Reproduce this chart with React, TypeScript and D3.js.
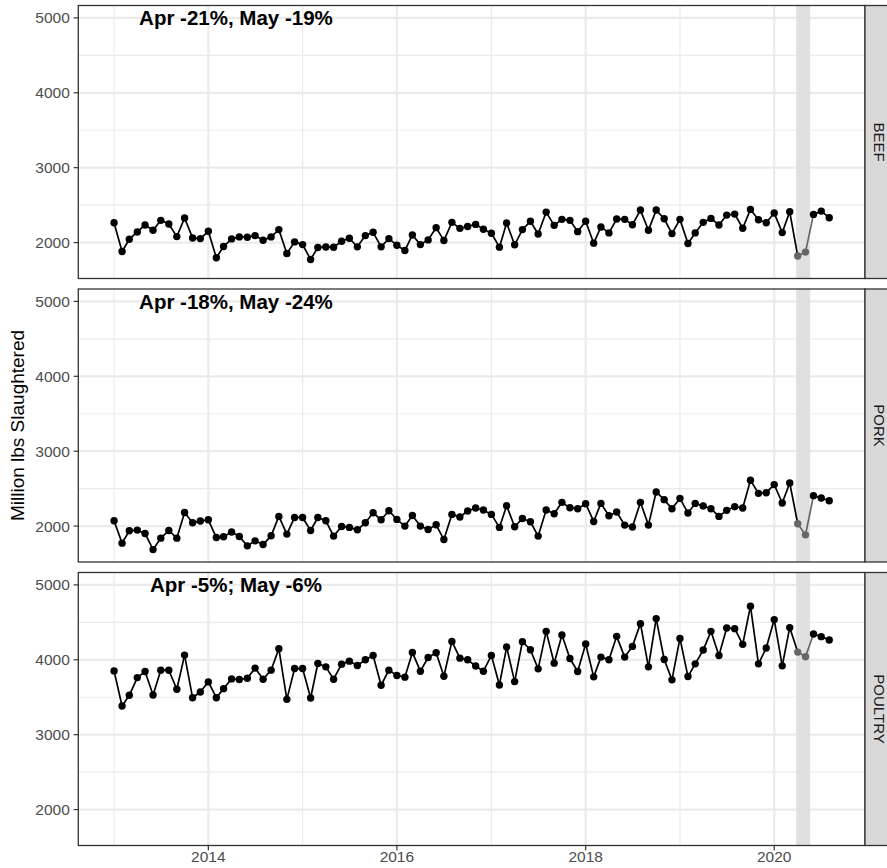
import React from 'react';
import * as d3 from 'd3';

// monthly slaughter, million lbs, Jan 2013 .. Aug 2020
const facets = ['BEEF', 'PORK', 'POULTRY'];

const beef = [
  2265, 1881, 2045, 2142, 2235, 2164, 2297, 2248, 2080, 2328, 2062, 2053,
  2151, 1797, 1947, 2049, 2076, 2071, 2093, 2032, 2076, 2173, 1854, 2009,
  1973, 1775, 1935, 1940, 1938, 2018, 2058, 1943, 2093, 2137, 1943, 2053,
  1965, 1894, 2102, 1973, 2036, 2199, 2027, 2270, 2190, 2215, 2243, 2178,
  2125, 1939, 2261, 1970, 2173, 2284, 2115, 2407, 2230, 2310, 2297, 2146,
  2284, 1992, 2208, 2129, 2314, 2310, 2239, 2434, 2164, 2434, 2318, 2120,
  2310, 1987, 2129, 2270, 2323, 2235, 2367, 2380, 2191, 2443, 2305, 2265,
  2394, 2133, 2411, 1820, 1873, 2376, 2420, 2332,
];

const pork = [
  2071, 1772, 1937, 1946, 1901, 1686, 1839, 1941, 1839, 2182, 2044, 2067,
  2084, 1847, 1857, 1920, 1861, 1736, 1803, 1753, 1870, 2129, 1893, 2115,
  2115, 1941, 2115, 2071, 1866, 1995, 1982, 1950, 2044, 2178, 2084, 2205,
  2089, 2000, 2142, 2000, 1955, 2017, 1820, 2156, 2122, 2201, 2241, 2214,
  2156, 1982, 2272, 1991, 2102, 2058, 1866, 2214, 2165, 2317, 2245, 2232,
  2299, 2062, 2303, 2138, 2188, 2013, 1987, 2317, 2013, 2456, 2353, 2232,
  2370, 2174, 2303, 2268, 2232, 2129, 2210, 2259, 2241, 2611, 2437, 2446,
  2554, 2308, 2576, 2031, 1883, 2406, 2375, 2339,
];

const poultry = [
  3852, 3383, 3526, 3762, 3843, 3530, 3862, 3860, 3607, 4063, 3494, 3570,
  3705, 3494, 3615, 3745, 3736, 3754, 3889, 3741, 3862, 4148, 3472, 3883,
  3883, 3490, 3951, 3906, 3741, 3942, 3982, 3924, 4000, 4058, 3660, 3862,
  3790, 3768, 4098, 3848, 4031, 4094, 3781, 4246, 4022, 4000, 3917, 3848,
  4058, 3664, 4170, 3709, 4242, 4134, 3879, 4380, 3955, 4331, 4018, 3843,
  4210, 3772, 4036, 4000, 4313, 4036, 4179, 4483, 3906, 4550, 4004, 3732,
  4286, 3776, 3946, 4130, 4380, 4058, 4425, 4416, 4206, 4716, 3946, 4157,
  4537, 3919, 4430, 4103, 4040, 4345, 4309, 4264,
];

const seriesList = [beef, pork, poultry];
const notes = ['Apr -21%, May -19%', 'Apr -18%, May -24%', 'Apr -5%; May -6%'];
const noteY = 5000;
const noteDate = new Date(2014, 3, 18);

const yMajor = [2000, 3000, 4000, 5000];
const yMinor = [2500, 3500, 4500];
const xMajorYears = [2014, 2016, 2018, 2020];
const xMinorYears = [2013, 2015, 2017, 2019];

const covidStart = new Date(2020, 2, 26);
const covidEnd = new Date(2020, 4, 19);
const covidMonths = ['2020-04', '2020-05'];

const months = d3.timeMonth.range(new Date(2013, 0, 1), new Date(2020, 8, 1));
const fmtMonth = d3.timeFormat('%Y-%m');

const W = 887;
const H = 868;
const left = 78.3;
const right = 865;
const panelTop = 5.5;
const panelH = 273;
const panelGap = 10.5;
const stripW = 29;
const font = '"Liberation Sans", Arial, Helvetica, sans-serif';

export default function App() {
  const t0 = +months[0];
  const t1 = +months[months.length - 1];
  const xpad = (t1 - t0) * 0.05;
  const x = d3.scaleTime().domain([new Date(t0 - xpad), new Date(t1 + xpad)]).range([left, right]);

  const ymin = d3.min(seriesList, (s) => d3.min(s)) as number;
  const ymax = noteY;
  const ypad = (ymax - ymin) * 0.05;

  const bottom = panelTop + 2 * (panelH + panelGap) + panelH;

  return (
    <svg width={W} height={H} style={{ position: 'absolute', left: 0, top: 0, background: '#fff' }} fontFamily={font}>
      <rect width={W} height={H} fill="#fff" />
      {facets.map((name, i) => {
        const top = panelTop + i * (panelH + panelGap);
        const y = d3.scaleLinear().domain([ymin - ypad, ymax + ypad]).range([top + panelH, top]);
        const vals = seriesList[i];
        const pts = vals.map((v, k) => ({
          x: x(months[k]),
          y: y(v),
          covid: covidMonths.includes(fmtMonth(months[k])),
        }));
        return (
          <g key={name}>
            <rect x={left} y={top} width={right - left} height={panelH} fill="#fff" />
            {yMinor.map((v) => (
              <line key={'ym' + v} x1={left} x2={right} y1={y(v)} y2={y(v)} stroke="#EBEBEB" strokeWidth={1.2} />
            ))}
            {xMinorYears.map((yr) => (
              <line key={'xm' + yr} x1={x(new Date(yr, 0, 1))} x2={x(new Date(yr, 0, 1))} y1={top} y2={top + panelH} stroke="#EBEBEB" strokeWidth={1.2} />
            ))}
            {yMajor.map((v) => (
              <line key={'yM' + v} x1={left} x2={right} y1={y(v)} y2={y(v)} stroke="#EBEBEB" strokeWidth={2.2} />
            ))}
            {xMajorYears.map((yr) => (
              <line key={'xM' + yr} x1={x(new Date(yr, 0, 1))} x2={x(new Date(yr, 0, 1))} y1={top} y2={top + panelH} stroke="#EBEBEB" strokeWidth={2.2} />
            ))}
            <rect x={x(covidStart)} y={top} width={x(covidEnd) - x(covidStart)} height={panelH} fill="#E0E0E0" />
            {pts.slice(0, -1).map((p, k) => (
              <line key={'s' + k} x1={p.x} y1={p.y} x2={pts[k + 1].x} y2={pts[k + 1].y}
                stroke={p.covid ? '#666666' : '#000'} strokeWidth={1.7} strokeLinecap="round" />
            ))}
            {pts.map((p, k) => (
              <circle key={'p' + k} cx={p.x} cy={p.y} r={3.7} fill={p.covid ? '#666666' : '#000'} />
            ))}
            <text x={x(noteDate)} y={y(noteY)} dy="0.36em" textAnchor="middle" fontSize={20.5} fontWeight="bold" fill="#000">
              {notes[i]}
            </text>
            <rect x={left} y={top} width={right - left} height={panelH} fill="none" stroke="#333333" strokeWidth={1.3} />
            <rect x={right} y={top} width={stripW} height={panelH} fill="#D9D9D9" stroke="#333333" strokeWidth={1.3} />
            <text transform={`translate(${right + stripW / 2},${top + panelH / 2}) rotate(90)`} dy="0.36em"
              textAnchor="middle" fontSize={15} fill="#1A1A1A">
              {name}
            </text>
            {yMajor.map((v) => (
              <g key={'yt' + v}>
                <line x1={left - 4.7} x2={left} y1={y(v)} y2={y(v)} stroke="#333333" strokeWidth={1.2} />
                <text x={left - 8.5} y={y(v)} dy="0.36em" textAnchor="end" fontSize={15.5} fill="#4D4D4D">{v}</text>
              </g>
            ))}
          </g>
        );
      })}
      {xMajorYears.map((yr) => {
        const xx = x(new Date(yr, 0, 1));
        return (
          <g key={'xt' + yr}>
            <line x1={xx} x2={xx} y1={bottom} y2={bottom + 4.7} stroke="#333333" strokeWidth={1.2} />
            <text x={xx} y={bottom + 16} textAnchor="middle" fontSize={15.5} fill="#4D4D4D">{yr}</text>
          </g>
        );
      })}
      <text transform={`translate(17.5,${(panelTop + bottom) / 2}) rotate(-90)`} dy="0.36em" textAnchor="middle"
        fontSize={19} fill="#000">
        Million lbs Slaughtered
      </text>
    </svg>
  );
}
